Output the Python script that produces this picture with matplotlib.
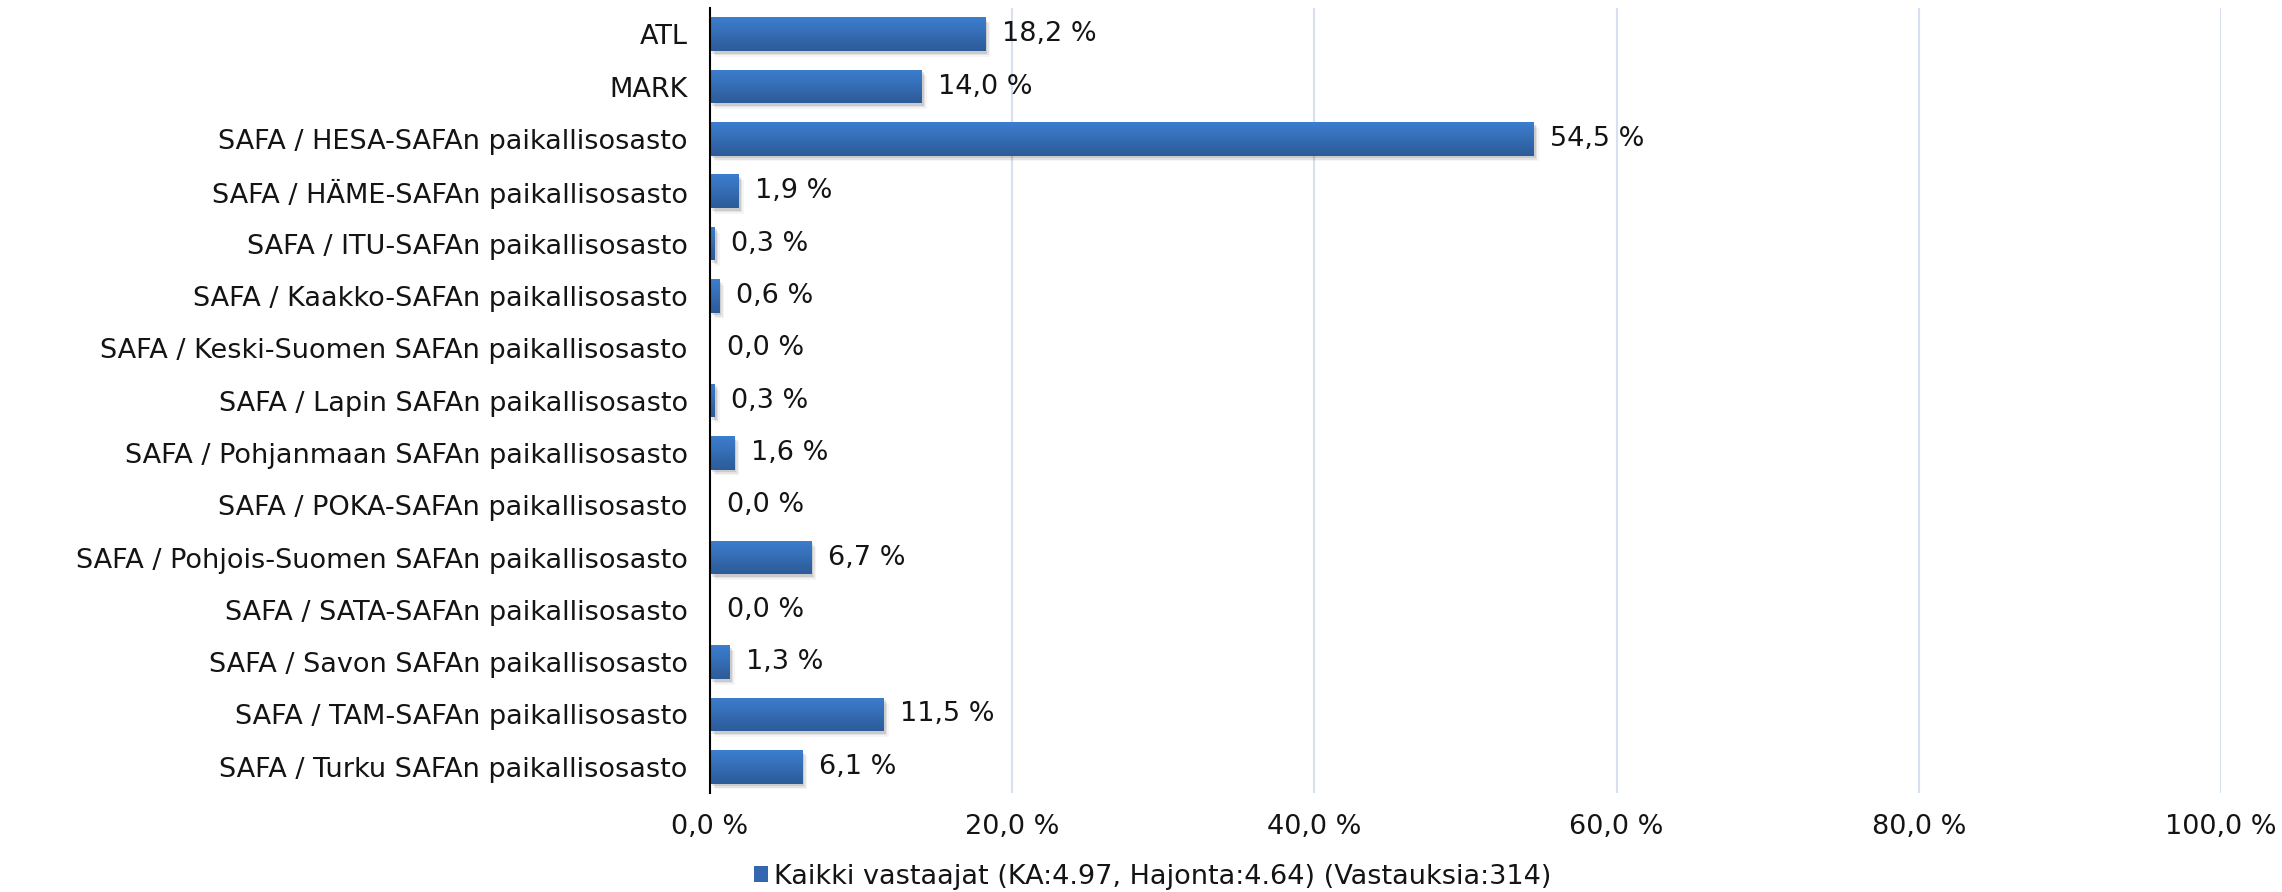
import numpy as np
import matplotlib
matplotlib.use('Agg')
import matplotlib.pyplot as plt
from matplotlib.colors import LinearSegmentedColormap
from matplotlib.patches import Rectangle

plt.rcParams['font.family'] = ['DejaVu Sans']

categories = [
    'ATL',
    'MARK',
    'SAFA / HESA-SAFAn paikallisosasto',
    'SAFA / HÄME-SAFAn paikallisosasto',
    'SAFA / ITU-SAFAn paikallisosasto',
    'SAFA / Kaakko-SAFAn paikallisosasto',
    'SAFA / Keski-Suomen SAFAn paikallisosasto',
    'SAFA / Lapin SAFAn paikallisosasto',
    'SAFA / Pohjanmaan SAFAn paikallisosasto',
    'SAFA / POKA-SAFAn paikallisosasto',
    'SAFA / Pohjois-Suomen SAFAn paikallisosasto',
    'SAFA / SATA-SAFAn paikallisosasto',
    'SAFA / Savon SAFAn paikallisosasto',
    'SAFA / TAM-SAFAn paikallisosasto',
    'SAFA / Turku SAFAn paikallisosasto',
]
values = [18.2, 14.0, 54.5, 1.9, 0.3, 0.6, 0.0, 0.3, 1.6, 0.0, 6.7, 0.0, 1.3, 11.5, 6.1]
xticks = [0, 20, 40, 60, 80, 100]
legend_label = 'Kaikki vastaajat (KA:4.97, Hajonta:4.64) (Vastauksia:314)'

def pct(v):
    return f'{v:.1f} %'.replace('.', ',')

fs = 19.5
txt_color = '#141414'

fig = plt.figure(figsize=(22.82, 8.92), dpi=100)
ax = fig.add_axes([0.3111, 0.111, 0.6622, 0.880])

y = np.arange(len(categories))
bh = 0.64
# light on top, darker at the bottom
cmap = LinearSegmentedColormap.from_list('bar', ['#3d7ecf', '#2c5b98'])
grad = np.linspace(0, 1, 64).reshape(-1, 1)

bars = ax.barh(y, values, height=bh, color='none', edgecolor='none', zorder=3)
for b, v in zip(bars, values):
    x0, y0 = b.get_x(), b.get_y()
    w, h = b.get_width(), b.get_height()
    if w > 0:
        # soft shadow
        for k, a in enumerate([0.10, 0.07, 0.04]):
            ax.add_patch(Rectangle((x0 + 0.15 + 0.1 * k, y0 + 0.05 + 0.03 * k), w, h,
                                   color='#000000', alpha=a, lw=0, zorder=2))
        im = ax.imshow(grad, extent=[x0, x0 + w, y0 + h, y0], aspect='auto',
                       cmap=cmap, zorder=3, interpolation='bilinear')
        im.set_clip_path(b)
    ax.text(v + 1.1, b.get_y() + h / 2, pct(v), va='center', ha='left',
            fontsize=fs, color=txt_color, zorder=4)

ax.set_xlim(0, 100)
ax.set_ylim(len(categories) - 0.5, -0.5)
ax.set_xticks(xticks)
ax.set_xticklabels([pct(t) for t in xticks], fontsize=fs, color=txt_color)
ax.set_yticks(y)
ax.set_yticklabels(categories, fontsize=fs, color=txt_color)
ax.tick_params(axis='both', length=0)
ax.tick_params(axis='y', pad=16)
ax.tick_params(axis='x', pad=15)

for t in xticks[1:]:
    ax.axvline(t, color='#d6e0ee', lw=1.5, zorder=1)

for s in ['top', 'right', 'bottom']:
    ax.spines[s].set_visible(False)
ax.spines['left'].set_color('#000000')
ax.spines['left'].set_linewidth(1.5)
ax.spines['left'].set_zorder(5)

handle = Rectangle((0, 0), 1, 1, facecolor='#3567b0', edgecolor='none')
fig.legend([handle], [legend_label], loc='center', bbox_to_anchor=(0.505, 0.017),
           frameon=False, fontsize=fs, handlelength=0.55, handleheight=0.55,
           handletextpad=0.2, labelcolor=txt_color, borderpad=0.1)

fig.savefig('out.png', dpi=100)
